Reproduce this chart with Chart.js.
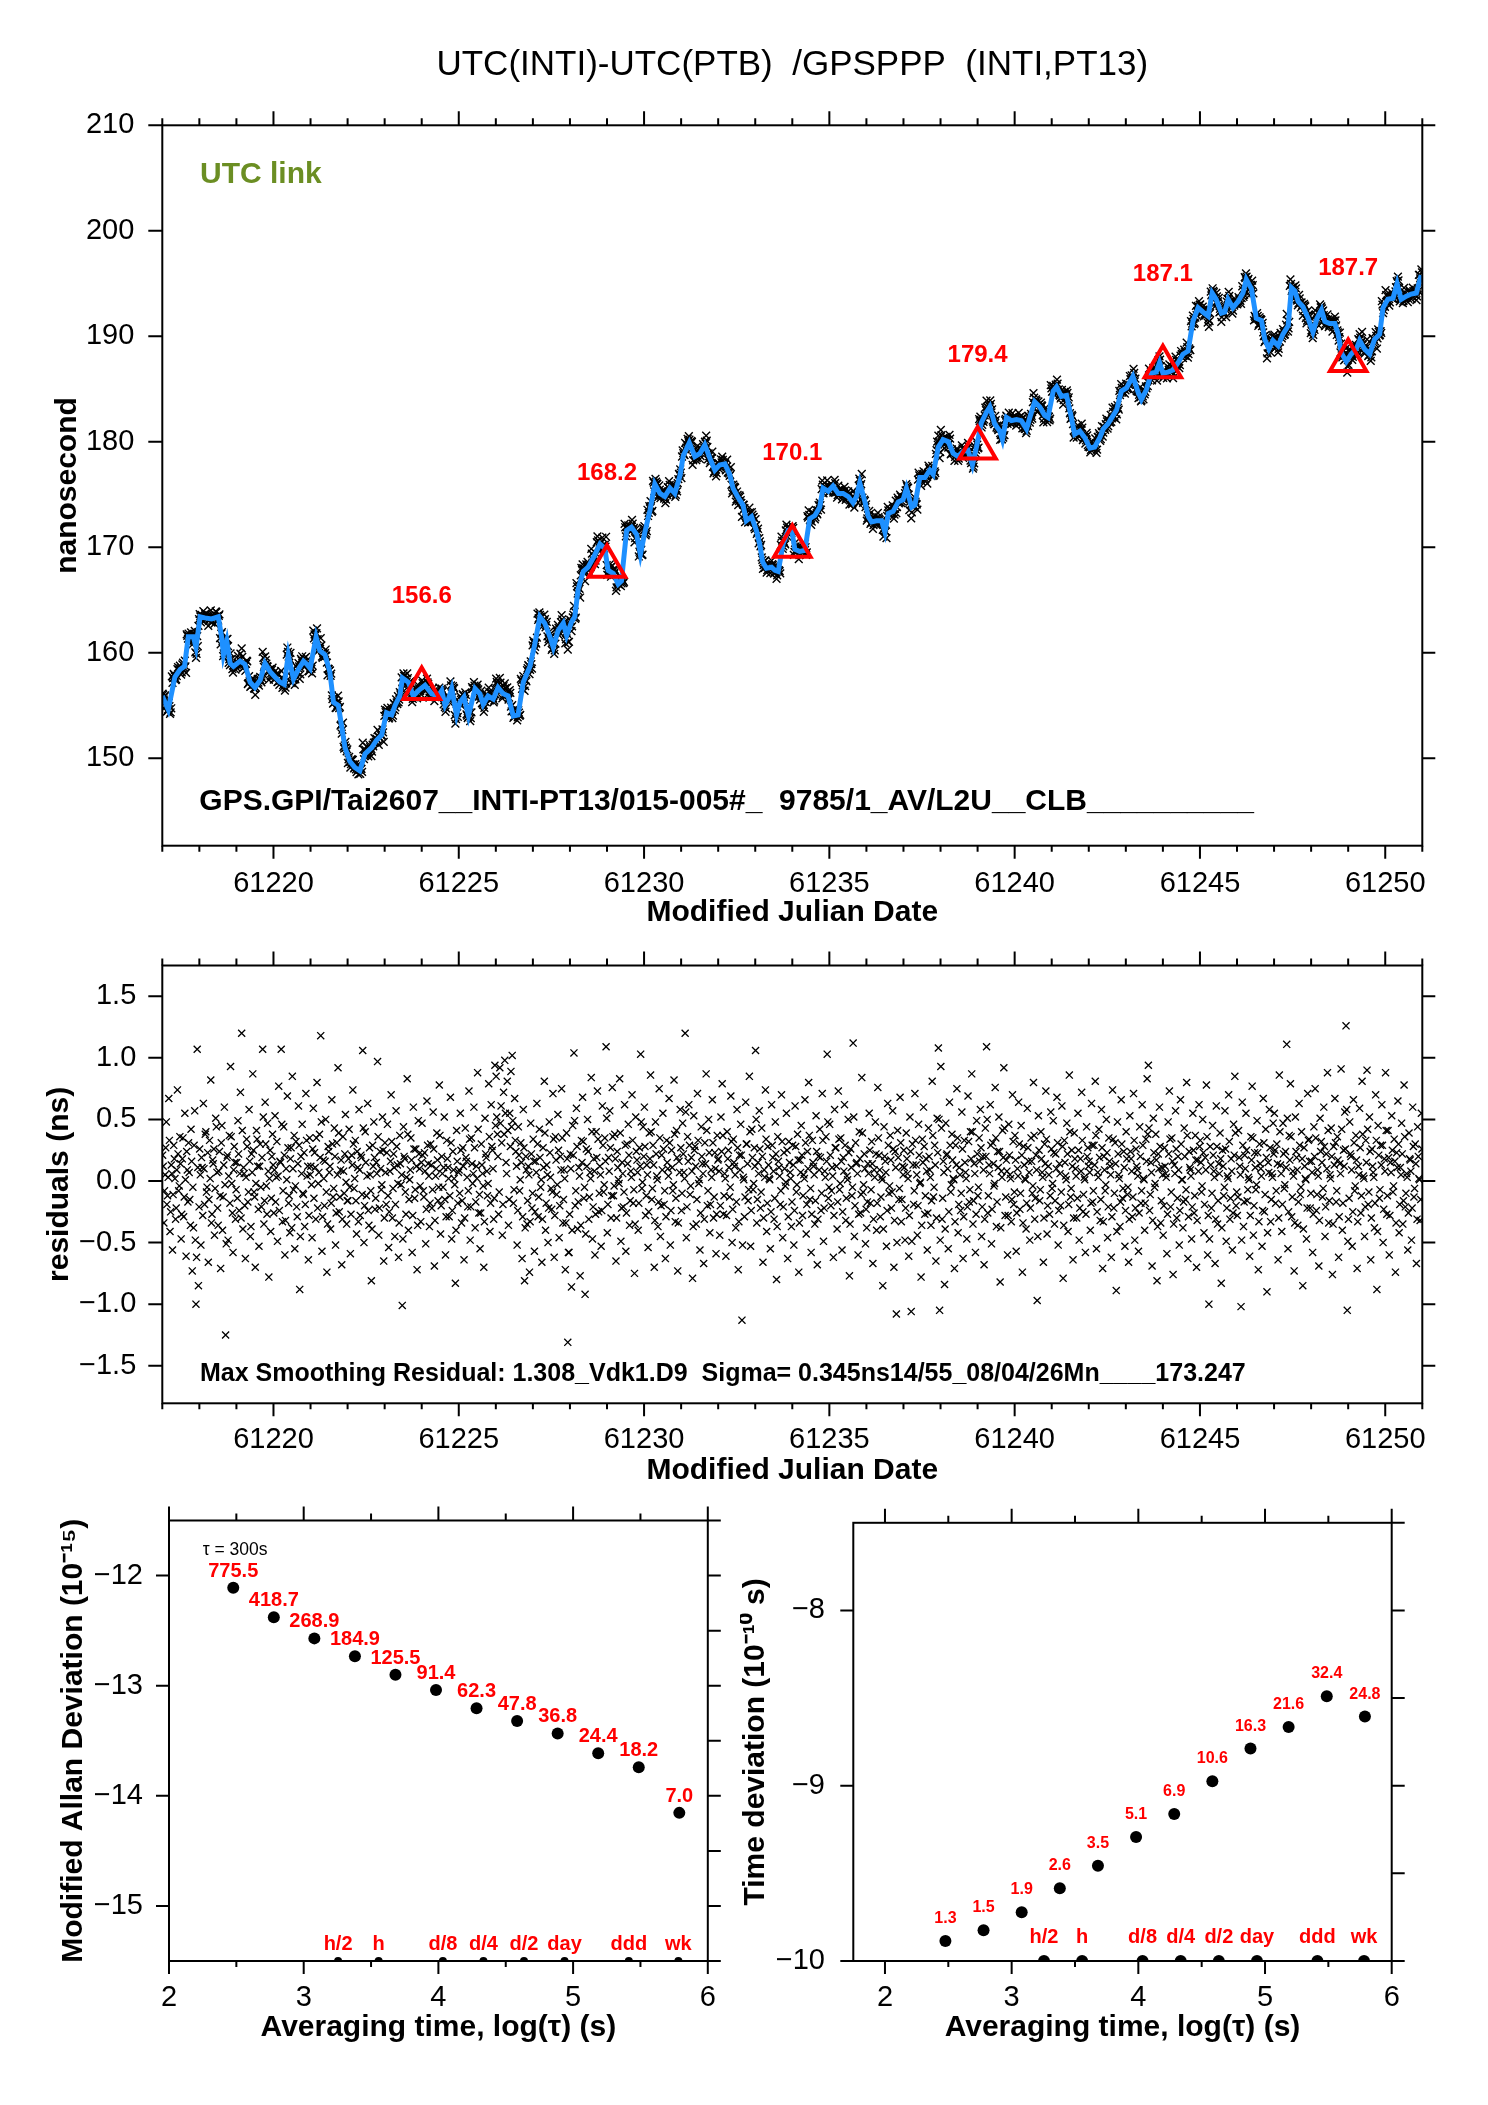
<!DOCTYPE html>
<html>
<head>
<meta charset="utf-8">
<title>UTC(INTI)-UTC(PTB) /GPSPPP (INTI,PT13)</title>
<script src="https://cdn.jsdelivr.net/npm/chart.js@4.4.1/dist/chart.umd.min.js"></script>
<style>
  body { margin: 0; background: #fff; }
  #page { position: relative; width: 1488px; height: 2105px; background: #fff; overflow: hidden; }
  canvas { position: absolute; }
</style>
</head>
<body>
<div id="page">
  <canvas id="linkChart" width="1488" height="940" style="left:0;top:0;width:1488px;height:940px"></canvas>
  <canvas id="residChart" width="1488" height="575" style="left:0;top:925px;width:1488px;height:575px"></canvas>
  <canvas id="mdevChart" width="740" height="625" style="left:0;top:1480px;width:740px;height:625px"></canvas>
  <canvas id="tdevChart" width="748" height="625" style="left:740px;top:1480px;width:748px;height:625px"></canvas>
</div>
<script>
const FONT = "'Liberation Sans', Arial, Helvetica, sans-serif";
Chart.defaults.font.family = FONT;
Chart.defaults.color = '#000';

// smoothed UTC link (MJD, ns)
const smoothMjd = [
  61217.00,61217.16,61217.34,61217.48,61217.60,61217.70,61217.84,61217.91,61218.02,61218.15,
  61218.33,61218.51,61218.60,61218.65,61218.74,61218.83,61218.92,61219.10,61219.23,61219.37,
  61219.50,61219.64,61219.77,61219.91,61220.04,61220.18,61220.29,61220.40,61220.54,61220.67,
  61220.81,61220.90,61220.99,61221.15,61221.25,61221.39,61221.52,61221.62,61221.75,61221.84,
  61221.93,61222.06,61222.20,61222.33,61222.47,61222.65,61222.78,61222.92,61223.05,61223.19,
  61223.28,61223.41,61223.48,61223.64,61223.77,61223.91,61224.09,61224.27,61224.45,61224.54,
  61224.63,61224.72,61224.81,61224.94,61225.03,61225.14,61225.26,61225.44,61225.57,61225.66,
  61225.79,61225.93,61226.06,61226.20,61226.33,61226.47,61226.60,61226.74,61226.92,61227.05,
  61227.19,61227.32,61227.46,61227.55,61227.68,61227.82,61227.91,61228.04,61228.13,61228.22,
  61228.36,61228.49,61228.63,61228.81,61228.94,61229.03,61229.17,61229.30,61229.39,61229.53,
  61229.66,61229.80,61229.90,61230.02,61230.16,61230.29,61230.43,61230.56,61230.70,61230.83,
  61230.97,61231.06,61231.22,61231.37,61231.51,61231.64,61231.78,61231.91,61232.04,61232.18,
  61232.31,61232.40,61232.54,61232.67,61232.76,61232.90,61233.03,61233.12,61233.20,61233.30,
  61233.44,61233.53,61233.62,61233.75,61233.89,61233.98,61234.07,61234.20,61234.34,61234.47,
  61234.61,61234.74,61234.83,61234.97,61235.10,61235.24,61235.37,61235.51,61235.64,61235.73,
  61235.82,61235.96,61236.05,61236.14,61236.27,61236.41,61236.50,61236.59,61236.72,61236.86,
  61236.99,61237.08,61237.22,61237.31,61237.44,61237.58,61237.71,61237.80,61237.94,61238.07,
  61238.21,61238.34,61238.47,61238.61,61238.74,61238.86,61238.97,61239.10,61239.24,61239.33,
  61239.46,61239.60,61239.67,61239.78,61239.91,61240.05,61240.18,61240.32,61240.41,61240.54,
  61240.68,61240.81,61240.90,61241.04,61241.13,61241.26,61241.40,61241.53,61241.62,61241.76,
  61241.89,61242.03,61242.16,61242.30,61242.39,61242.52,61242.66,61242.75,61242.88,61243.02,
  61243.11,61243.19,61243.33,61243.42,61243.55,61243.69,61243.82,61243.91,61244.00,61244.14,
  61244.27,61244.41,61244.54,61244.68,61244.81,61244.95,61245.08,61245.22,61245.33,61245.44,
  61245.58,61245.67,61245.76,61245.89,61246.03,61246.16,61246.25,61246.39,61246.52,61246.66,
  61246.75,61246.86,61246.97,61247.11,61247.24,61247.38,61247.47,61247.56,61247.65,61247.78,
  61247.92,61248.05,61248.16,61248.28,61248.37,61248.50,61248.64,61248.73,61248.82,61248.95,
  61249.08,61249.22,61249.31,61249.44,61249.58,61249.71,61249.85,61249.94,61250.07,61250.21,
  61250.32,61250.43,61250.57,61250.70,61250.84,61250.97
];
const smoothNs = [
  155.9,154.6,157.7,158.4,158.7,161.5,161.5,160.5,163.4,163.3,
  163.2,163.4,161.5,159.8,161.1,159.0,158.7,159.2,158.9,157.2,
  156.7,157.4,159.0,158.2,157.7,157.2,157.0,159.8,157.5,158.4,
  159.2,158.9,158.5,161.5,160.2,159.8,158.2,155.3,155.0,153.0,
  151.0,149.7,149.1,148.8,150.4,151.0,151.7,152.2,154.3,154.1,
  155.0,155.9,157.6,157.2,155.9,156.4,156.9,156.1,155.9,156.4,
  155.0,155.6,156.6,154.1,155.3,155.8,154.0,156.6,156.1,155.1,
  155.9,155.6,156.7,156.1,155.9,154.0,154.1,157.2,158.7,160.8,
  163.4,162.8,161.5,160.5,162.1,162.8,161.6,162.9,163.4,166.0,
  167.7,168.1,169.0,170.3,169.9,167.8,167.5,166.5,166.8,171.6,
  171.9,171.2,169.3,171.4,173.5,176.0,175.1,174.8,175.6,175.1,
  176.8,178.7,179.9,178.6,178.9,179.7,178.4,177.3,177.8,177.9,
  176.9,175.6,174.7,174.0,172.5,172.9,171.6,170.3,168.6,168.0,
  168.1,167.8,167.7,170.3,171.6,171.7,169.8,169.6,169.7,172.7,
  173.0,173.8,175.6,175.3,175.8,175.1,175.1,174.8,174.2,174.8,
  176.1,174.3,172.9,172.4,172.5,172.5,171.4,173.2,173.4,174.3,
  174.5,175.6,173.8,174.0,176.6,176.6,177.3,176.9,179.5,180.2,
  180.0,178.9,178.6,179.1,179.2,177.8,179.5,181.8,182.8,183.3,
  181.7,181.0,180.2,182.3,182.0,182.1,182.0,181.2,182.3,183.8,
  183.3,182.5,182.3,184.8,185.2,184.3,184.4,182.3,180.7,181.0,
  180.4,179.4,179.5,180.4,181.2,181.7,182.5,183.0,184.8,185.1,
  185.7,186.2,184.7,184.0,184.9,186.5,186.6,187.5,186.5,186.6,
  186.8,187.5,188.3,188.6,191.4,192.7,192.3,191.9,194.1,193.5,
  192.2,192.3,193.5,192.7,193.3,194.1,195.4,194.5,191.7,191.5,
  189.7,188.8,189.6,189.1,190.2,191.0,194.6,194.3,193.3,192.8,
  191.7,190.4,191.7,192.5,191.4,191.2,191.2,190.2,188.4,187.6,
  188.3,188.8,189.6,188.8,188.3,189.7,190.2,192.7,193.5,193.6,
  195.0,193.5,193.8,194.0,194.1,195.8
];

// triangle markers and their printed values (ns)
const checkMjd = [61224, 61229, 61234, 61239, 61244, 61249];
const checkNs = [156.6, 168.2, 170.1, 179.4, 187.1, 187.7];

// smoothing residuals (ns): two interleaved samplings, one row per day
const residStartMjd = 61217;
const residEndMjd = 61251;
const residA = [
  .21,-.34,.05,.48,-.12,.67,-.41,.13,-.56,.29,.02,-.22,.74,-.08,.36,-.47,.18,-.29,.55,-.61,.09,.31,-.15,.42,-.73,-.38,.57,-1.00,1.07,-.85,
  .26,-.52,.11,.63,-.19,.40,-.05,-.66,.33,.82,-.27,.14,-.44,.51,.07,-.36,.24,-.71,.45,-.13,.60,-1.25,.19,-.48,.37,.93,-.02,-.58,.28,-.31,
  .15,.49,-.24,.72,1.20,-.39,.06,-.63,.34,-.17,.58,-.45,.22,.87,-.09,-.70,.41,.12,-.53,.30,-.21,1.07,-.35,.64,-.04,.47,-.78,.25,-.14,.38,
  -.26,.53,.03,-.49,.77,.16,1.07,-.33,.44,-.60,.10,.69,-.18,-.42,.27,.85,-.07,-.55,.32,-.29,.61,-.88,.20,.46,-.11,-.37,.71,.04,-.64,.35,
  .12,-.46,.59,.23,-.31,.80,-.02,.38,1.18,-.57,.17,-.20,.50,-.74,.28,.07,-.39,.66,-.13,.43,-.52,.31,.92,-.25,.09,-.68,.36,-.10,.54,-.35,
  -.16,.42,-.59,.21,.74,-.06,.33,-.43,.11,.58,-.28,.19,1.06,-.50,.40,-.12,.63,-.36,.05,-.81,.29,.48,-.23,.15,.97,-.44,.24,-.07,.52,-.65,
  .31,-.19,.46,-.54,.08,.70,-.30,.22,-.45,.57,.13,-.62,.37,-.03,-1.01,.44,.18,-.27,.83,-.40,.01,.35,-.58,.60,-.14,.26,-.72,.49,.10,-.33,
  .47,-.08,.23,-.51,.65,.14,-.37,.30,-.22,.56,-.69,.04,.39,-.16,.78,-.43,.20,-.05,.52,-.60,.33,.11,-.29,.68,-.47,.24,.02,-.83,.41,-.18,
  .09,.55,-.34,.27,-.64,.43,.16,-.21,.73,-.48,.35,-.02,.60,-.38,.12,.88,-.26,-.55,.30,.06,-.70,.51,.19,-.12,.79,-.41,.62,.25,-.31,.94,
  .85,.38,-.27,.92,.61,-.44,.72,.98,.15,.81,-.36,.55,.89,1.02,-.18,.67,.24,-.52,.44,-.08,.31,-.63,.58,-.81,.20,-.35,.12,-.74,.47,-.22,
  .34,-.57,.16,.63,-.29,.42,-.05,-.66,.27,.81,-.40,.13,-.50,.48,.03,-.23,.71,-.62,.36,-.11,.54,-.46,.20,.75,-.34,.09,-.72,.39,-1.31,-.58,
  .22,-.86,.45,1.04,-.20,.59,-.39,.11,-.77,.33,.68,-.14,-.92,.26,.50,-.31,.07,.84,-.47,.18,-.60,.40,.73,-.25,.12,-.53,.61,-.09,.35,1.09,
  -.42,.19,.57,-.30,.76,-.12,.38,-.65,.24,.01,.83,-.49,.15,-.21,.62,-.57,.30,.46,-.36,.08,.70,-.18,-.75,.52,.17,-.40,.27,1.03,-.06,.44,
  .60,-.28,.13,-.54,.39,.86,-.15,.29,-.70,.48,.04,-.37,.75,-.45,.21,.55,-.19,-.63,.33,.10,.67,-.52,.25,-.08,.82,-.33,.41,-.73,.16,.58,
  -.24,.47,.07,1.20,-.46,.36,.62,-.11,.19,-.79,.53,.28,-.35,.71,-.02,-.56,.44,.14,-.67,.31,.87,-.20,.50,-.42,.09,.66,-.30,.23,-.59,.37,
  .18,-.44,.52,.79,-.27,.06,-.61,.40,.25,-.13,.69,-.50,.34,.12,-.38,.58,-.72,.21,.46,-1.13,.03,-.29,.64,.30,-.16,.85,-.53,.42,-.07,.27,
  1.06,-.34,.15,.57,-.22,.43,-.66,.09,.74,-.41,.28,.02,-.55,.62,.19,-.31,.48,-.80,.36,.11,-.19,.70,-.46,.23,-.04,.55,-.63,.32,.07,-.37,
  .29,-.52,.61,-.09,.38,-.74,.17,.45,-.28,.05,.66,-.43,.24,.80,-.15,-.58,.33,.12,-.35,.53,-.68,.20,.42,-.24,.71,-.49,.08,.36,1.03,-.14,
  .46,-.20,.11,-.62,.58,.27,-.39,.73,-.07,.35,-.56,.19,.62,-.32,.04,.50,-.77,.26,-.12,1.12,-.45,.31,.15,-.60,.40,-.26,.84,-.09,.22,-.51,
  -.38,.14,.55,-.18,.32,-.67,.09,.48,-.40,.76,.21,-.29,.03,-.85,.44,.16,-.53,.63,-.10,.37,-.22,.57,-.70,.24,-1.08,.41,-.15,.68,-.33,.12,
  .25,-.48,.39,.06,-.61,.52,-1.06,.30,-.19,.71,.13,-.44,.46,-.02,-.78,.34,.60,-.27,.18,-.56,.43,.09,-.36,.81,-.13,.29,-.65,.51,1.08,-1.05,
  .93,-.31,.16,-.84,.47,.22,-.55,.64,-.09,.38,.02,-.71,.29,.75,-.42,.11,-.24,.56,-.63,.33,.07,-.47,.69,-.17,.40,.87,-.35,.14,-.58,.49,
  -.12,.35,.58,-.45,.20,-.68,.43,1.09,-.26,.13,.62,-.51,.31,-.04,.76,-.37,.24,.52,-.82,.08,.41,.92,-.28,.17,-.60,.46,.05,-.33,.70,-.19,
  .37,-.57,.10,.64,-.23,.45,-.74,.28,.02,-.39,.59,.16,-.48,.35,-.10,.80,-.31,.21,-.97,.53,-.16,.40,.07,-.66,.30,.73,-.43,.12,-.27,.56,
  -.06,.49,-.35,.22,.68,-.52,.14,-.20,.61,-.79,.33,.04,.47,-.41,.86,-.13,.25,-.64,.39,.10,-.30,.55,-.48,.18,.72,-.25,.03,-.58,.44,.27,
  .16,-.40,.63,-.17,.29,.81,-.55,.07,.42,-.32,.58,-.71,.20,-.08,.50,-.46,.35,.12,-.62,.74,-.22,.31,-.89,.48,.05,-.37,.66,-.14,.24,-.53,
  .40,-.11,-.66,.53,.18,-.29,.71,-.48,.26,.09,-.57,.44,-.18,.62,.02,-.40,.34,.83,.94,-.24,.15,-.69,.51,-.05,.38,-.81,.22,.60,-.34,.11,
  -.44,.27,.06,-.59,.48,.73,-.21,.35,-.76,.13,.57,-.30,.20,-.52,.66,.01,-.38,.43,-.15,.80,-.63,.24,.09,-.47,.55,-.26,.37,-.70,.17,.62,
  .33,-.09,.50,-.42,.19,.78,-.60,-1.00,.28,-.22,.45,.08,-.67,.61,-.35,.14,.39,-.83,.25,-.12,.57,-.49,.04,.70,-.31,.18,-.56,.46,.85,-.20,
  -.28,.41,.12,-1.02,.64,-.37,.21,.55,-.16,.03,-.61,.36,.77,-.44,.23,-.07,.49,-.72,.30,.10,-.53,.67,-.25,.42,-.90,.15,.58,-.33,.06,.47,
  .55,-.18,.30,-.64,.86,.13,-.41,.47,-.06,.24,1.11,-.55,.37,.79,-.29,.08,-.73,.52,.19,-.36,.63,-.11,.40,-.85,.27,.02,-.47,.71,.34,-.22,
  .16,-.58,.44,.75,-.24,.09,-.69,.51,.32,-.13,.60,-.45,.22,.88,-.34,.05,.43,-.76,.28,.67,-.17,.36,-.62,.14,.91,-.40,.25,.56,1.26,-1.05,
  -.31,.48,.20,-.53,.66,-.08,.37,-.71,.12,.59,-.26,.81,.04,-.45,.33,.90,-.19,.52,-.64,.26,.07,-.38,.70,-.88,.45,-.14,.29,.62,-.50,.18,
  .88,-.27,.41,-.60,.15,.53,-.09,.34,-.74,.23,.65,-.42,.11,.47,-.35,.78,-.21,.06,-.56,.39,.17,-.48,.60,-.13,.30,-.67,.44,.02,-.32,.55
];
const residB = [
  .12,-.08,.27,-.19,.03,.33,-.25,.06,-.11,.18,-.31,.09,.22,-.04,.14,-.27,.35,-.13,.01,.24,-.17,.07,-.36,.16,-.05,.29,-.48,-.62,.11,-.21,
  .05,.19,-.28,.10,.38,-.09,.23,-.15,.02,-.34,.17,.26,-.06,.44,-.22,.08,-.12,.31,-.40,.13,-.03,-.51,.21,.04,-.18,.36,-.26,.09,.15,-.07,
  -.14,.22,.06,-.30,.41,.11,-.20,.03,.28,-.09,.16,-.37,.07,.25,-.13,-.02,.34,-.23,.12,-.05,.19,.52,-.16,.30,-.27,.08,.02,-.41,.20,.13,
  .09,-.17,.32,.04,-.24,.15,.46,-.08,.21,-.32,.01,.27,-.12,.18,-.38,.10,.37,-.04,-.21,.14,.29,-.45,.06,-.10,.23,-.19,.33,.12,-.28,.05,
  -.03,.26,-.14,.11,.35,-.22,.07,.19,.48,-.29,.02,.16,-.09,-.35,.24,.12,-.18,.30,-.06,.20,-.26,.05,.39,-.13,.17,-.31,.08,.22,-.01,-.16,
  .18,-.05,-.27,.13,.30,.02,-.16,.24,-.33,.09,.21,-.11,.43,-.20,.15,.04,-.24,.27,-.08,-.39,.12,.19,-.14,.06,.36,-.22,.10,-.03,.25,-.30,
  .07,.23,-.12,-.25,.16,.32,-.06,.11,-.19,.28,-.02,-.34,.14,.05,-.47,.20,-.09,.03,.38,-.15,.09,.17,-.28,.26,-.07,.12,-.36,.22,-.04,.15,
  .21,-.13,.08,-.23,.29,.04,-.18,.13,-.07,.26,-.32,.10,.17,-.05,.37,-.20,.06,.11,-.15,-.29,.18,.02,-.12,.31,-.24,.09,-.03,-.40,.16,.07,
  -.10,.25,-.16,.12,-.30,.19,.03,-.08,.34,-.21,.14,.06,.27,-.17,.02,.42,-.11,-.26,.13,-.04,-.33,.22,.08,-.02,.36,-.18,.28,.10,-.14,.45,
  .52,.20,-.09,.47,.31,-.19,.38,.55,.06,.41,-.15,.28,.44,.49,-.07,.33,.12,-.24,.21,.01,.15,-.29,.27,-.38,.09,-.16,.05,-.33,.22,-.10,
  .16,-.25,.07,.30,-.13,.19,.01,-.31,.11,.39,-.18,.05,-.22,.23,-.06,-.09,.34,-.28,.17,-.03,.25,-.20,.09,.35,-.15,.02,-.34,.18,-.58,-.27,
  .10,-.40,.21,.49,-.08,.28,-.17,.04,-.36,.15,.32,-.05,-.43,.12,.24,-.13,.02,.40,-.21,.08,-.27,.19,.34,-.10,.05,-.24,.29,-.03,.16,.51,
  -.19,.08,.27,-.12,.36,-.04,.18,-.30,.11,-.02,.39,-.22,.06,-.09,.29,-.26,.14,.21,-.16,.03,.33,-.07,-.35,.24,.07,-.18,.12,.48,-.01,.20,
  .28,-.12,.05,-.25,.18,.40,-.06,.13,-.32,.22,.01,-.17,.35,-.20,.09,.26,-.08,-.29,.15,.04,.31,-.24,.11,-.03,.38,-.14,.19,-.34,.07,.27,
  -.10,.22,.02,.56,-.21,.16,.29,-.04,.08,-.37,.25,.12,-.15,.33,.01,-.26,.20,.06,-.31,.14,.41,-.08,.23,-.19,.03,.31,-.13,.10,-.27,.17,
  .08,-.20,.24,.37,-.12,.02,-.28,.18,.11,-.05,.32,-.23,.15,.05,-.17,.27,-.33,.09,.21,-.52,.01,-.13,.30,.14,-.07,.40,-.24,.19,-.02,.12,
  .50,-.15,.06,.26,-.09,.20,-.30,.03,.34,-.18,.13,.01,-.25,.29,.08,-.14,.22,-.37,.16,.04,-.08,.32,-.21,.10,-.01,.25,-.29,.15,.02,-.17,
  .13,-.24,.28,-.03,.17,-.34,.07,.21,-.12,.02,.31,-.19,.10,.37,-.06,-.27,.15,.05,-.16,.24,-.31,.09,.19,-.10,.33,-.22,.03,.16,.48,-.05,
  .21,-.08,.04,-.28,.27,.12,-.17,.34,-.02,.16,-.25,.08,.29,-.14,.01,.23,-.35,.11,-.05,.52,-.20,.14,.06,-.27,.18,-.11,.39,-.03,.10,-.23,
  -.17,.06,.25,-.07,.14,-.31,.03,.22,-.18,.35,.09,-.13,.01,-.39,.20,.07,-.24,.29,-.04,.17,-.09,.26,-.32,.11,-.50,.19,-.06,.31,-.15,.05,
  .11,-.22,.18,.02,-.28,.24,-.49,.13,-.08,.33,.05,-.20,.21,-.01,-.36,.15,.28,-.12,.08,-.26,.20,.03,-.16,.37,-.05,.13,-.30,.23,.50,-.48,
  .43,-.14,.07,-.39,.21,.10,-.25,.29,-.03,.17,.01,-.33,.13,.35,-.19,.05,-.10,.26,-.29,.15,.02,-.21,.32,-.07,.18,.40,-.16,.06,-.27,.22,
  -.05,.16,.27,-.21,.09,-.31,.20,.50,-.12,.06,.29,-.23,.14,-.02,.35,-.17,.11,.24,-.38,.03,.19,.43,-.13,.08,-.28,.21,.02,-.15,.32,-.09,
  .17,-.26,.04,.30,-.10,.21,-.34,.13,.01,-.18,.27,.07,-.22,.16,-.04,.37,-.14,.09,-.45,.25,-.07,.18,.03,-.30,.14,.34,-.20,.05,-.12,.26,
  -.02,.23,-.16,.10,.31,-.24,.06,-.09,.28,-.36,.15,.01,.22,-.19,.40,-.06,.12,-.30,.18,.04,-.14,.25,-.22,.08,.33,-.11,.01,-.27,.20,.12,
  .07,-.18,.29,-.08,.13,.37,-.25,.03,.19,-.15,.27,-.33,.09,-.03,.23,-.21,.16,.05,-.29,.34,-.10,.14,-.41,.22,.02,-.17,.30,-.06,.11,-.24,
  .18,-.05,-.31,.24,.08,-.13,.33,-.22,.12,.04,-.26,.20,-.08,.29,.01,-.18,.16,.38,.43,-.11,.07,-.32,.23,-.02,.17,-.37,.10,.28,-.16,.05,
  -.20,.12,.03,-.27,.22,.34,-.09,.16,-.35,.06,.26,-.14,.09,-.24,.30,.01,-.17,.20,-.07,.37,-.29,.11,.04,-.21,.25,-.12,.17,-.32,.08,.28,
  .15,-.04,.23,-.19,.09,.36,-.28,-.47,.13,-.10,.21,.03,-.31,.28,-.16,.06,.18,-.38,.12,-.05,.26,-.22,.02,.32,-.14,.08,-.26,.21,.39,-.09,
  -.13,.19,.05,-.48,.29,-.17,.10,.25,-.07,.01,-.28,.17,.35,-.20,.11,-.03,.23,-.33,.14,.04,-.24,.31,-.11,.19,-.42,.07,.27,-.15,.03,.22,
  .25,-.08,.14,-.30,.40,.06,-.19,.22,-.03,.11,.51,-.25,.17,.36,-.13,.04,-.34,.24,.09,-.17,.29,-.05,.18,-.39,.12,.01,-.22,.33,.16,-.10,
  .07,-.27,.20,.35,-.11,.04,-.32,.24,.15,-.06,.28,-.21,.10,.41,-.16,.02,.20,-.35,.13,.31,-.08,.17,-.29,.06,.42,-.18,.12,.26,.58,-.49,
  -.14,.22,.09,-.25,.31,-.04,.17,-.33,.05,.27,-.12,.38,.02,-.21,.15,.42,-.09,.24,-.30,.12,.03,-.18,.33,-.41,.21,-.07,.13,.29,-.23,.08,
  .41,-.12,.19,-.28,.07,.25,-.04,.16,-.34,.11,.30,-.19,.05,.22,-.16,.36,-.10,.03,-.26,.18,.08,-.22,.28,-.06,.14,-.31,.20,.01,-.15,.26
];

// stability: averaging times (s), MDEV in 1e-15, TDEV in 1e-10 s
const tauSec = [300, 600, 1200, 2400, 4800, 9600, 19200, 38400, 76800, 153600, 307200, 614400];
const mdevE15 = [775.5, 418.7, 268.9, 184.9, 125.5, 91.4, 62.3, 47.8, 36.8, 24.4, 18.2, 7.0];
const tdevE10 = [1.3, 1.5, 1.9, 2.6, 3.5, 5.1, 6.9, 10.6, 16.3, 21.6, 32.4, 24.8];
const markNames = ['h/2', 'h', 'd/8', 'd/4', 'd/2', 'day', 'ddd', 'wk'];
const markSec = [1800, 3600, 10800, 21600, 43200, 86400, 259200, 604800];

const mdevRange = [-15.5, -11.5];
const mdevTicks = [-15, -14, -13, -12];
const tdevRange = [-10, -7.5];

// ---- helpers ----
const minus = v => (v < 0 ? '\u2212' : '') + Math.abs(v);
const minus1 = v => (v < 0 ? '\u2212' : '') + Math.abs(v).toFixed(1);

// border box plus outward major/minor ticks on all four sides
const frame = spec => ({
  id: 'frame',
  afterDraw(chart) {
    const {ctx, chartArea: a} = chart;
    const xs = chart.scales.x, ys = chart.scales.y;
    const run = (scale, step, fn) => {
      const lo = Math.ceil(scale.min / step - 1e-6), hi = Math.floor(scale.max / step + 1e-6);
      for (let n = lo; n <= hi; n++) fn(scale.getPixelForValue(n * step));
    };
    ctx.save();
    ctx.strokeStyle = '#000';
    ctx.lineWidth = 2;
    ctx.strokeRect(a.left, a.top, a.right - a.left, a.bottom - a.top);
    ctx.beginPath();
    spec.bottom.forEach(([s, l]) => run(xs, s, p => { ctx.moveTo(p, a.bottom); ctx.lineTo(p, a.bottom + l); }));
    spec.top.forEach(([s, l]) => run(xs, s, p => { ctx.moveTo(p, a.top); ctx.lineTo(p, a.top - l); }));
    spec.left.forEach(([s, l]) => run(ys, s, p => { ctx.moveTo(a.left, p); ctx.lineTo(a.left - l, p); }));
    spec.right.forEach(([s, l]) => run(ys, s, p => { ctx.moveTo(a.right, p); ctx.lineTo(a.right + l, p); }));
    ctx.stroke();
    ctx.restore();
  }
});

// text above points of datasets that carry labelText
const pointLabels = {
  id: 'pointLabels',
  afterDatasetsDraw(chart) {
    const ctx = chart.ctx;
    chart.data.datasets.forEach((ds, i) => {
      if (!ds.labelText) return;
      const meta = chart.getDatasetMeta(i);
      ctx.save();
      ctx.font = ds.labelFont;
      ctx.fillStyle = ds.labelColor;
      ctx.textAlign = 'center';
      ctx.textBaseline = 'alphabetic';
      meta.data.forEach((pt, k) => ctx.fillText(ds.labelText[k], pt.x, pt.y - ds.labelLift));
      ctx.restore();
    });
  }
};

// free text inside the plot area
const notes = items => ({
  id: 'notes',
  afterDraw(chart) {
    const {ctx, chartArea: a} = chart;
    ctx.save();
    ctx.textAlign = 'left';
    ctx.textBaseline = 'alphabetic';
    items.forEach(n => {
      ctx.font = n.font;
      ctx.fillStyle = n.color || '#000';
      ctx.fillText(n.text, a.left + n.dx, n.fromBottom ? a.bottom - n.dy : a.top + n.dy);
    });
    ctx.restore();
  }
});

const tickFont = {size: 29, lineHeight: 1};
const titleFont = {size: 30, weight: 'bold', lineHeight: 1};
const noGrid = {display: false, drawTicks: false};
const base = {
  responsive: false,
  animation: false,
  devicePixelRatio: 1,
  events: []
};

// ---- derived series ----
const residStep = (residEndMjd - residStartMjd) / residA.length;
const residPts = residA.map((r, j) => ({x: residStartMjd + (j + 0.25) * residStep, y: r}))
  .concat(residB.map((r, j) => ({x: residStartMjd + (j + 0.75) * residStep, y: r})));

// raw link = nearest smoothed sample + residual
const nearestSmooth = t => {
  let b = 0;
  smoothMjd.forEach((m, i) => { if (Math.abs(m - t) < Math.abs(smoothMjd[b] - t)) b = i; });
  return b;
};
const rawPts = residPts.map(p => ({x: p.x, y: smoothNs[nearestSmooth(p.x)] + p.y}));

const mjdAxis = (fitH, pad, titlePad) => ({
  type: 'linear', min: 61217, max: 61251,
  afterFit: s => { s.height = fitH; },
  grid: noGrid, border: {display: false},
  ticks: {stepSize: 5, includeBounds: false, padding: pad, font: tickFont, maxRotation: 0, autoSkip: false, callback: v => String(v)},
  title: {display: true, text: 'Modified Julian Date', font: titleFont, padding: {top: 0, bottom: titlePad}}
});

// ---- UTC link ----
new Chart(document.getElementById('linkChart'), {
  type: 'scatter',
  data: {
    datasets: [
      {
        order: 0,
        data: checkMjd.map((x, k) => ({x, y: checkNs[k]})),
        pointStyle: 'triangle', pointRadius: 21, borderWidth: 4,
        borderColor: '#ff0000', backgroundColor: 'rgba(0,0,0,0)',
        labelText: checkNs.map(v => v.toFixed(1)), labelFont: 'bold 24px ' + FONT, labelColor: '#ff0000', labelLift: 86
      },
      {
        order: 1,
        data: smoothMjd.map((x, k) => ({x, y: smoothNs[k]})),
        showLine: true, pointRadius: 0, borderColor: '#1e90ff', borderWidth: 5
      },
      {
        order: 2,
        data: rawPts,
        pointStyle: 'crossRot', pointRadius: 5.5, borderWidth: 1.4, borderColor: '#000'
      }
    ]
  },
  options: Object.assign({}, base, {
    layout: {padding: {top: 0, right: 65.7, bottom: 0, left: 0}},
    plugins: {
      legend: {display: false}, tooltip: {enabled: false},
      title: {
        display: true, fullSize: false, color: '#000',
        text: 'UTC(INTI)-UTC(PTB)  /GPSPPP  (INTI,PT13)',
        font: {size: 35, weight: 'normal', lineHeight: 1},
        padding: {top: 48.3, bottom: 42}
      }
    },
    scales: {
      x: mjdAxis(94.3, 23.3, 12),
      y: {
        min: 141.7, max: 210,
        afterFit: s => { s.width = 162.3; },
        grid: noGrid, border: {display: false},
        ticks: {stepSize: 10, includeBounds: false, padding: 28, font: tickFont, callback: v => String(v)},
        title: {display: true, text: 'nanosecond', font: titleFont, padding: {top: 52.6, bottom: 0}}
      }
    }
  }),
  plugins: [
    frame({bottom: [[5, 13], [1, 6]], top: [[5, 14], [1, 7]], left: [[10, 14]], right: [[10, 13]]}),
    pointLabels,
    notes([
      {text: 'UTC link', font: 'bold 30px ' + FONT, color: '#6b8e23', dx: 37.7, dy: 58},
      {text: 'GPS.GPI/Tai2607__INTI-PT13/015-005#_  9785/1_AV/L2U__CLB__________', font: 'bold 30px ' + FONT, dx: 37, dy: 35.7, fromBottom: true}
    ])
  ]
});

// ---- residuals ----
new Chart(document.getElementById('residChart'), {
  type: 'scatter',
  data: {
    datasets: [{data: residPts, pointStyle: 'crossRot', pointRadius: 5, borderWidth: 1.3, borderColor: '#000'}]
  },
  options: Object.assign({}, base, {
    layout: {padding: {top: 28.3, right: 65.7, bottom: 0, left: 0}},
    plugins: {legend: {display: false}, tooltip: {enabled: false}},
    scales: {
      x: mjdAxis(96.7, 22.2, 14),
      y: {
        min: -1.805, max: 1.75,
        afterFit: s => { s.width = 162.3; },
        grid: noGrid, border: {display: false},
        ticks: {stepSize: 0.5, includeBounds: false, padding: 26, font: tickFont, callback: minus1},
        title: {display: true, text: 'residuals (ns)', font: titleFont, padding: {top: 44.5, bottom: 0}}
      }
    }
  }),
  plugins: [
    frame({bottom: [[5, 13], [1, 6]], top: [[5, 14], [1, 7]], left: [[0.5, 14]], right: [[0.5, 13]]}),
    notes([
      {text: 'Max Smoothing Residual: 1.308_Vdk1.D9  Sigma= 0.345ns14/55_08/04/26Mn____173.247', font: 'bold 25px ' + FONT, dx: 37.7, dy: 22.3, fromBottom: true}
    ])
  ]
});

// ---- stability plots ----
const tauAxis = (min, pad, titlePad) => ({
  type: 'linear', min: min, max: 6,
  afterFit: s => { s.height = 144; },
  grid: noGrid, border: {display: false},
  ticks: {stepSize: 1, includeBounds: false, padding: pad, font: tickFont, maxRotation: 0, callback: v => String(v)},
  title: {display: true, text: 'Averaging time, log(\u03c4) (s)', font: titleFont, padding: {top: 0, bottom: titlePad}}
});
const stabFrame = () => frame({bottom: [[1, 13], [0.5, 6]], top: [[1, 14], [0.5, 7]], left: [[1, 13]], right: [[0.5, 13]]});

new Chart(document.getElementById('mdevChart'), {
  type: 'scatter',
  data: {
    datasets: [
      {
        data: tauSec.map((t, k) => ({x: Math.log10(t), y: Math.log10(mdevE15[k] * 1e-15)})),
        pointRadius: 6, borderWidth: 0, backgroundColor: '#000',
        labelText: mdevE15.map(v => v.toFixed(1)), labelFont: 'bold 20px ' + FONT, labelColor: '#ff0000', labelLift: 11
      },
      {
        data: markSec.map(t => ({x: Math.log10(t), y: mdevRange[0]})),
        pointRadius: 4, borderWidth: 0, backgroundColor: '#000', clip: 0,
        labelText: markNames, labelFont: 'bold 20px ' + FONT, labelColor: '#ff0000', labelLift: 11
      }
    ]
  },
  options: Object.assign({}, base, {
    layout: {padding: {top: 31.3, right: 32.2, bottom: 0, left: 0}},
    plugins: {legend: {display: false}, tooltip: {enabled: false}},
    scales: {
      x: tauAxis(2, 22, 62),
      y: {
        min: mdevRange[0], max: mdevRange[1],
        afterFit: s => { s.width = 169; },
        afterBuildTicks: s => { s.ticks = mdevTicks.map(v => ({value: v})); },
        grid: noGrid, border: {display: false},
        ticks: {padding: 26, font: tickFont, callback: minus},
        title: {display: true, text: 'Modified Allan Deviation (10\u207b\u00b9\u2075)', font: titleFont, padding: {top: 58.3, bottom: 0}}
      }
    }
  }),
  plugins: [
    stabFrame(),
    pointLabels,
    notes([{text: '\u03c4 = 300s', font: '17.5px ' + FONT, dx: 33.7, dy: 34.7}])
  ]
});

new Chart(document.getElementById('tdevChart'), {
  type: 'scatter',
  data: {
    datasets: [
      {
        data: tauSec.map((t, k) => ({x: Math.log10(t), y: Math.log10(tdevE10[k] * 1e-10)})),
        pointRadius: 6, borderWidth: 0, backgroundColor: '#000',
        labelText: tdevE10.map(v => v.toFixed(1)), labelFont: 'bold 16px ' + FONT, labelColor: '#ff0000', labelLift: 18
      },
      {
        data: markSec.map(t => ({x: Math.log10(t), y: tdevRange[0]})),
        pointRadius: 6, borderWidth: 0, backgroundColor: '#000', clip: 0,
        labelText: markNames, labelFont: 'bold 20px ' + FONT, labelColor: '#ff0000', labelLift: 18.3
      }
    ]
  },
  options: Object.assign({}, base, {
    layout: {padding: {top: 31.3, right: 96.3, bottom: 0, left: 0}},
    plugins: {legend: {display: false}, tooltip: {enabled: false}},
    scales: {
      x: tauAxis(1.75, 22, 62),
      y: {
        min: tdevRange[0], max: tdevRange[1],
        afterFit: s => { s.width = 113.3; },
        grid: noGrid, border: {display: false},
        ticks: {stepSize: 1, includeBounds: false, padding: 28.3, font: tickFont, callback: minus},
        title: {display: true, text: 'Time deviation (10\u207b\u00b9\u2070 s)', font: titleFont, padding: {top: 1, bottom: 0}}
      }
    }
  }),
  plugins: [stabFrame(), pointLabels]
});
</script>
</body>
</html>
